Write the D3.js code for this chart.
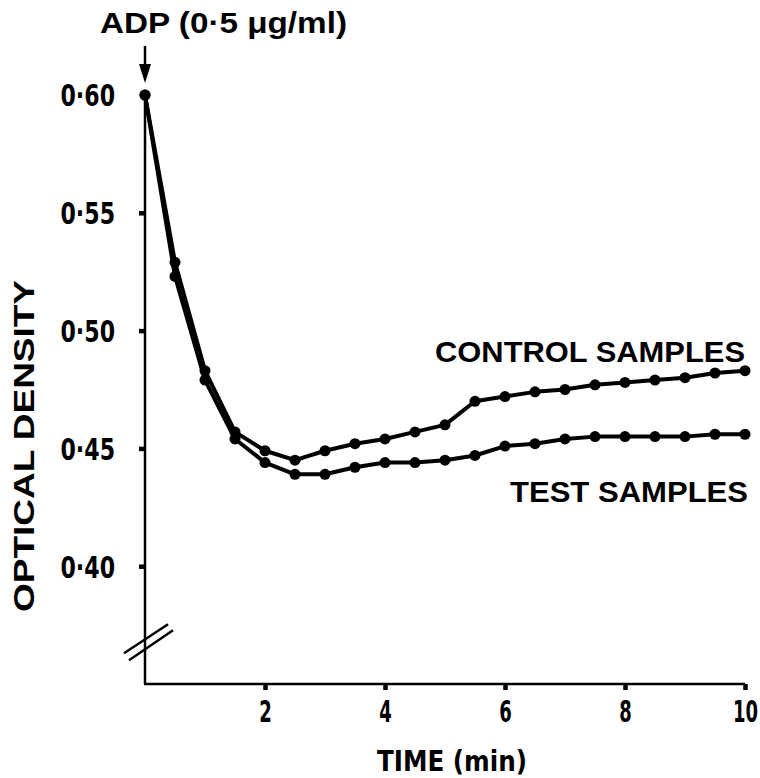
<!DOCTYPE html>
<html>
<head>
<meta charset="utf-8">
<script src="https://cdn.jsdelivr.net/npm/d3@7"></script>
<style>
  body { margin: 0; background: #fff; }
  svg { display: block; }
  .cond { font-family: "DejaVu Sans", sans-serif; font-stretch: condensed; font-weight: bold; }
  .wide { font-family: "Liberation Sans", Arial, sans-serif; font-weight: bold; }
</style>
</head>
<body>
<svg width="760" height="778"></svg>
<script>
// time in minutes, one reading every half minute
var times = [0, 0.5, 1, 1.5, 2, 2.5, 3, 3.5, 4, 4.5, 5, 5.5, 6, 6.5, 7, 7.5, 8, 8.5, 9, 9.5, 10];
var control = [0.600, 0.529, 0.483, 0.457, 0.449, 0.445, 0.449, 0.452, 0.454, 0.457, 0.460,
               0.470, 0.472, 0.474, 0.475, 0.477, 0.478, 0.479, 0.480, 0.482, 0.483];
var test = [0.600, 0.523, 0.479, 0.454, 0.444, 0.439, 0.439, 0.442, 0.444, 0.444, 0.445,
            0.447, 0.451, 0.452, 0.454, 0.455, 0.455, 0.455, 0.455, 0.456, 0.456];
var xTicks = [2, 4, 6, 8, 10];
var yTicks = [0.40, 0.45, 0.50, 0.55, 0.60];

var svg = d3.select("svg");
var ink = "#000";

var x = d3.scaleLinear().domain([0, 10]).range([145, 745]);
var y = d3.scaleLinear().domain([0.35, 0.60]).range([684, 95]);

// squeeze labels to the narrow lettering of the original
function narrow(sel, w) {
  sel.attr("lengthAdjust", "spacingAndGlyphs")
    .attr("textLength", function() {
      var s = this.textContent;
      var dots = s.length - s.replace(/\u00b7/g, "").length;
      return (s.length - dots) * w + dots * 11;
    });
}

// x axis
var xAxis = svg.append("g")
  .attr("transform", "translate(0," + y(0.35) + ")")
  .call(d3.axisBottom(x).tickValues(xTicks).tickSize(6).tickSizeOuter(0).tickPadding(11)
    .tickFormat(d3.format("d")));
xAxis.select(".domain").attr("d", "M" + (x(0) - 1) + ",0H" + x(10)).attr("stroke-width", 2.5);
xAxis.selectAll(".tick line").attr("stroke-width", 4.5);
xAxis.selectAll(".tick text").attr("class", "cond").attr("font-size", 30).attr("fill", ink)
  .call(narrow, 12.5);

// y axis
var yAxis = svg.append("g")
  .attr("transform", "translate(" + x(0) + ",0)")
  .call(d3.axisLeft(y).tickValues(yTicks).tickSize(6).tickSizeOuter(0).tickPadding(24)
    .tickFormat(function(d) { return d3.format(".2f")(d).replace(".", "\u00b7"); }));
yAxis.select(".domain").attr("d", "M0," + y(0.60) + "V" + y(0.35)).attr("stroke-width", 2.5);
yAxis.selectAll(".tick line").attr("stroke-width", 4.5);
yAxis.selectAll(".tick text").attr("class", "cond").attr("font-size", 30).attr("fill", ink)
  .attr("dy", "0.36em").call(narrow, 14.5);
// no tick mark at 0.60, the first point sits there
yAxis.selectAll(".tick").filter(function(d) { return d === 0.60; }).select("line").remove();

// axis break
var brk = svg.append("g").attr("transform", "translate(" + x(0) + "," + y(0.369) + ")");
brk.append("line").attr("x1", -21).attr("y1", 14).attr("x2", 23).attr("y2", -15);
brk.append("line").attr("x1", -16).attr("y1", 21).attr("x2", 28).attr("y2", -9);
brk.selectAll("line").attr("stroke", ink).attr("stroke-width", 2.5);

// series
var line = d3.line().x(function(d) { return x(d[0]); }).y(function(d) { return y(d[1]); });
[control, test].forEach(function(vals) {
  var pts = times.map(function(t, i) { return [t, vals[i]]; });
  svg.append("path").datum(pts)
    .attr("d", line).attr("fill", "none").attr("stroke", ink)
    .attr("stroke-width", 4).attr("stroke-linejoin", "round");
  svg.append("g").selectAll("circle").data(pts).enter().append("circle")
    .attr("cx", function(d) { return x(d[0]); })
    .attr("cy", function(d) { return y(d[1]); })
    .attr("r", 5.5).attr("fill", ink);
});

// series labels
svg.append("text").attr("class", "wide").attr("x", 435).attr("y", 362)
  .attr("font-size", 30).attr("textLength", 310).attr("lengthAdjust", "spacingAndGlyphs")
  .text("CONTROL SAMPLES");
svg.append("text").attr("class", "wide").attr("x", 510).attr("y", 502)
  .attr("font-size", 30).attr("textLength", 238).attr("lengthAdjust", "spacingAndGlyphs")
  .text("TEST SAMPLES");

// ADP arrow and label
svg.append("line").attr("x1", x(0)).attr("x2", x(0)).attr("y1", 46).attr("y2", 70)
  .attr("stroke", ink).attr("stroke-width", 2.5);
svg.append("path").attr("d", "M" + (x(0) - 6) + ",64L" + (x(0) + 6) + ",64L" + x(0) + ",83Z")
  .attr("fill", ink);
svg.append("text").attr("class", "wide").attr("x", 100).attr("y", 33)
  .attr("font-size", 30).attr("textLength", 247).attr("lengthAdjust", "spacingAndGlyphs")
  .text("ADP (0\u00b75 \u03bcg/ml)");

// axis titles
svg.append("text").attr("class", "cond").attr("x", 452).attr("y", 771)
  .attr("text-anchor", "middle").attr("font-size", 29)
  .attr("textLength", 150).attr("lengthAdjust", "spacingAndGlyphs").text("TIME  (min)");
svg.append("text").attr("class", "wide")
  .attr("transform", "translate(34,446) rotate(-90)")
  .attr("text-anchor", "middle").attr("font-size", 29)
  .attr("textLength", 332).attr("lengthAdjust", "spacingAndGlyphs").text("OPTICAL DENSITY");
</script>
</body>
</html>
